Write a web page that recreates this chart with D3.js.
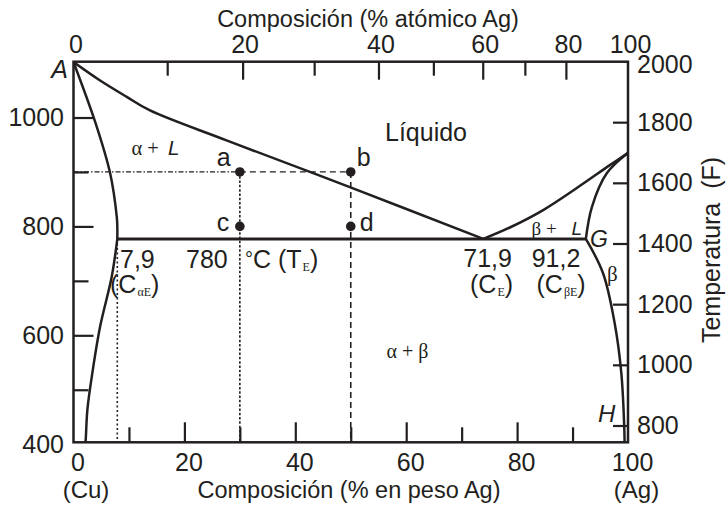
<!DOCTYPE html>
<html><head><meta charset="utf-8">
<script src="https://cdn.jsdelivr.net/npm/d3@7"></script>
<style>
body{margin:0;background:#fff}
svg{display:block}
text{font-family:"Liberation Sans",Arial,Helvetica,sans-serif;fill:#231f20}
.serif{font-family:"Liberation Serif","Times New Roman",serif}
</style>
</head><body>
<svg id="chart" width="728" height="506"></svg>
<script>
// ---- tick data ----
const wtTicks = [10,20,30,40,50,60,70,80,90];
const wtLabels = [0,20,40,60,80,100];
const tempCTicks = [500,600,700,800,900,1000];
const tempCLabels = [400,600,800,1000];
const tempFLabels = [800,1000,1200,1400,1600,1800,2000];
const atomicTicks = [0,10,20,30,40,50,60,70,80,100];
const atomicTickWt = [0,16.9,30.5,43.4,55.0,64.9,73.8,81.4,88.8,100];
const atomicLabels = [0,20,40,60,80,100];

// ---- phase boundaries (wt% Ag, °C) ----
const liquidusCu   = [[0,1102],[4.8,1068],[9.6,1038],[13.8,1013],[27.6,958],[49.6,873],[73.9,777]];
const solidusAlpha = [[0,1102],[4.2,983],[6.6,898],[7.8,818],[7.9,800],[7.9,777]];
const solvusAlpha  = [[7.9,777],[6.9,708],[4.8,616],[3.3,524],[2.5,463],[2.2,408],[2.1,398]];
const liquidusAg   = [[73.9,777],[78.7,798],[84.7,830],[90.7,870],[96.8,913],[100,935]];
const solidusBeta  = [[100,935],[96.2,898],[93.5,836],[92.4,777]];
const solvusBeta   = [[92.4,777],[95.5,714],[97.6,622],[98.8,530],[99.3,438],[99.4,398]];
const eutecticLine = [[7.9,777],[92.4,777]];
const points = [{n:"a",w:30,t:900},{n:"b",w:50,t:900},{n:"c",w:30,t:800},{n:"d",w:50,t:800}];
const tMin = 403.5, tMax = 1102.5, fMin = 800, fMax = 2000;

const svg = d3.select("#chart");
const ink = "#231f20";
const x = d3.scaleLinear().domain([0,100]).range([73.5,628]);
const yC = d3.scaleLinear().domain([tMin,tMax]).range([442.3,61.7]);
const yF = d3.scaleLinear().domain([fMin,fMax]).range([425.5,61.5]);
const xAt = d3.scaleLinear().domain(atomicTicks).range(atomicTickWt.map(x));

svg.append("defs").append("clipPath").attr("id","clip")
  .append("rect").attr("x",x(0)).attr("y",yC(tMax)).attr("width",x(100)-x(0)).attr("height",yC(tMin)-yC(tMax));

const line = d3.line().x(d=>x(d[0])).y(d=>yC(d[1])).curve(d3.curveCatmullRom.alpha(0.5));
const g = svg.append("g").attr("clip-path","url(#clip)");
[liquidusCu, solidusAlpha, solvusAlpha, liquidusAg, solidusBeta, solvusBeta].forEach(c=>{
  g.append("path").attr("d",line(c)).attr("fill","none").attr("stroke",ink).attr("stroke-width",2.5);
});
g.append("path").attr("d",d3.line().x(d=>x(d[0])).y(d=>yC(d[1]))(eutecticLine))
  .attr("fill","none").attr("stroke",ink).attr("stroke-width",3);

// guide lines
const pa = points[0], pb = points[1];
g.append("line").attr("x1",x(0)).attr("x2",x(pa.w)).attr("y1",yC(pa.t)).attr("y2",yC(pa.t))
  .attr("stroke",ink).attr("stroke-width",1.3).attr("stroke-dasharray","5,2,1.5,2");
g.append("line").attr("x1",x(pa.w)).attr("x2",x(pb.w)).attr("y1",yC(pa.t)).attr("y2",yC(pb.t))
  .attr("stroke",ink).attr("stroke-width",1.3).attr("stroke-dasharray","6,4");
g.append("line").attr("x1",x(pa.w)).attr("x2",x(pa.w)).attr("y1",yC(pa.t)).attr("y2",yC(tMin))
  .attr("stroke",ink).attr("stroke-width",1.6).attr("stroke-dasharray","2.5,1.8");
g.append("line").attr("x1",x(pb.w)).attr("x2",x(pb.w)).attr("y1",yC(pb.t)).attr("y2",yC(tMin))
  .attr("stroke",ink).attr("stroke-width",1.6).attr("stroke-dasharray","6,4");
g.append("line").attr("x1",x(eutecticLine[0][0])).attr("x2",x(eutecticLine[0][0]))
  .attr("y1",yC(eutecticLine[0][1])).attr("y2",yC(tMin))
  .attr("stroke",ink).attr("stroke-width",1.6).attr("stroke-dasharray","2,2.5");

// points
svg.selectAll("circle.pt").data(points).join("circle").attr("class","pt")
  .attr("cx",d=>x(d.w)).attr("cy",d=>yC(d.t)).attr("r",4.8).attr("fill",ink);

// frame
svg.append("rect").attr("x",x(0)).attr("y",yC(tMax)).attr("width",x(100)-x(0)).attr("height",yC(tMin)-yC(tMax))
  .attr("fill","none").attr("stroke",ink).attr("stroke-width",2.5);

// axes
function styleAxis(sel){
  sel.select(".domain").remove();
  sel.selectAll(".tick line").attr("stroke",ink).attr("stroke-width",2.2);
  sel.selectAll(".tick text").attr("font-size",25).attr("fill",ink)
     .attr("font-family","'Liberation Sans',Arial,sans-serif");
}
// bottom
const gb = svg.append("g").attr("transform",`translate(0,${yC(tMin)})`)
  .call(d3.axisBottom(x).tickValues([...wtTicks,0,100]).tickSizeInner(-20).tickSizeOuter(0).tickPadding(11)
  .tickFormat(d=>wtLabels.includes(d)?d:""));
styleAxis(gb);
gb.selectAll(".tick line").attr("y2",d=>(d===0||d===100)?0:(d%20===0?-20:-15));
gb.selectAll(".tick text").attr("dx",4);
// top
const gt = svg.append("g").attr("transform",`translate(0,${yC(tMax)})`)
  .call(d3.axisTop(xAt).tickValues(atomicTicks).tickSizeInner(-18).tickSizeOuter(0).tickPadding(9)
  .tickFormat(d=>atomicLabels.includes(d)?d:""));
styleAxis(gt);
gt.selectAll(".tick line").attr("y2",d=>(d===0||d===100)?0:(d%20===0?18:14));
gt.selectAll(".tick text").attr("dx",2);
// left (°C)
const gl = svg.append("g").attr("transform",`translate(${x(0)},0)`)
  .call(d3.axisLeft(yC).tickValues([400,...tempCTicks]).tickSizeInner(-20).tickSizeOuter(0).tickPadding(9.5)
  .tickFormat(d=>tempCLabels.includes(d)?d:""));
styleAxis(gl);
gl.selectAll(".tick line").attr("x2",d=>d===400?0:(tempCLabels.includes(d)?20:15));
// right (°F)
const gr = svg.append("g").attr("transform",`translate(${x(100)},0)`)
  .call(d3.axisRight(yF).tickValues(tempFLabels).tickSizeInner(-15).tickSizeOuter(0).tickPadding(9)
  .tickFormat(d=>d));
styleAxis(gr);
gr.selectAll(".tick line").attr("x2",d=>d===2000?0:-15);
gr.selectAll(".tick text").filter(d=>d===2000).attr("dy","0.45em");

// titles
svg.append("text").attr("x",368).attr("y",27).attr("text-anchor","middle").attr("font-size",23.5)
  .text("Composición (% atómico Ag)");
svg.append("text").attr("x",349).attr("y",497.5).attr("text-anchor","middle").attr("font-size",23.5)
  .text("Composición (% en peso Ag)");
svg.append("text").attr("x",86).attr("y",497.5).attr("text-anchor","middle").attr("font-size",24).text("(Cu)");
svg.append("text").attr("x",636.5).attr("y",497.5).attr("text-anchor","middle").attr("font-size",24).text("(Ag)");
svg.append("text").attr("transform","translate(720,250) rotate(-90)").attr("text-anchor","middle")
  .attr("font-size",25).attr("xml:space","preserve").style("white-space","pre").text("Temperatura  (F)");

// region & point labels
function lab(xp,yp,txt,size,opts={}){
  const t=svg.append("text").attr("x",xp).attr("y",yp).attr("font-size",size);
  if(opts.italic) t.attr("font-style","italic");
  if(opts.serif) t.attr("class","serif");
  if(opts.anchor) t.attr("text-anchor",opts.anchor);
  t.text(txt); return t;
}
lab(68,78,"A",25,{italic:true,anchor:"end"});
lab(385,140.7,"Líquido",25);
// α + L
let t1 = svg.append("text").attr("x",131.5).attr("y",155).attr("font-size",20.5);
t1.append("tspan").attr("class","serif").text("α + ");
t1.append("tspan").attr("font-style","italic").attr("dx",4).text("L");
// β + L
let t2 = svg.append("text").attr("x",531.5).attr("y",235).attr("font-size",19);
t2.append("tspan").attr("class","serif").text("β + ");
t2.append("tspan").attr("font-style","italic").attr("dx",10).text("L");
// α + β
lab(386.5,358,"α + β",20,{serif:true});
lab(607,281,"β",21,{serif:true});
lab(590,246.7,"G",23,{italic:true});
lab(598,421.5,"H",24,{italic:true});
points.forEach(p=>{
  const left = p.n==="a"||p.n==="c";
  lab(left?x(p.w)-23:x(p.w)+(p.n==="b"?6:9), yC(p.t)-(p.t===900?6:-5), p.n, 25);
});
// composition labels
lab(120,268.3,"7,9",25);
lab(186,268.3,"780",25);
lab(463.3,266.7,"71,9",25);
lab(531.7,266.7,"91,2",25);
function sub(xp,yp,pre,subTxt,post){
  const t=svg.append("text").attr("x",xp).attr("y",yp).attr("font-size",25);
  t.append("tspan").text(pre);
  t.append("tspan").attr("class","serif").attr("font-size",12).attr("dy",3).attr("dx",1).text(subTxt);
  t.append("tspan").attr("dy",-3).text(post);
  return t;
}
sub(110,293.3,"(C","αE",")");
sub(470,293.3,"(C","E",")");
sub(536.5,293.3,"(C","βE",")");
// 780 °C (T_E)
const te = svg.append("text").attr("x",245).attr("y",268.3).attr("font-size",25);
te.append("tspan").attr("font-size",20).attr("dy",-2).text("°");
te.append("tspan").attr("dy",2).text("C (T");
te.append("tspan").attr("class","serif").attr("font-size",12).attr("dy",3).attr("dx",1).text("E");
te.append("tspan").attr("dy",-3).text(")");
</script>
</body></html>
